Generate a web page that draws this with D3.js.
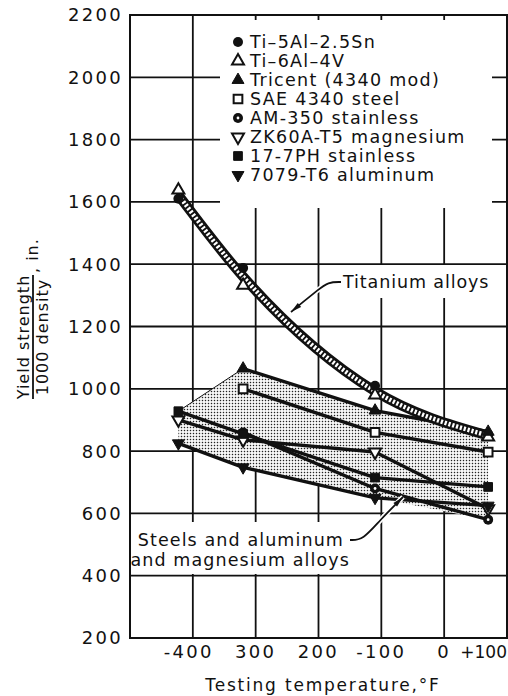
<!DOCTYPE html>
<html>
<head>
<meta charset="utf-8">
<script src="https://cdn.jsdelivr.net/npm/d3@7"></script>
<style>
  html, body { margin: 0; padding: 0; background: #fff; }
  svg { display: block; }
  text { font-family: "DejaVu Sans", sans-serif; fill: #111; }
</style>
</head>
<body>
<svg id="chart" width="508" height="696"></svg>
<script>
// Testing temperatures (°F): liquid hydrogen, liquid nitrogen, dry ice, room temperature
const temps = [-423, -320, -110, 70];

// Yield strength / 1000 density (in.) for each alloy; null = not tested
const tiAl5Sn = [1610, 1388, 1010, 852];
const ti6Al4V = [1638, 1332, 980, 845];
const tricent = [null, 1065, 930, 862];
const sae4340 = [null, 1000, 860, 797];
const am350 = [null, 860, 680, 580];
const zk60a = [900, 836, 797, 615];
const ph177 = [928, 855, 715, 685];
const al7079 = [825, 748, 650, 625];

// Centre of the hatched titanium band
const titaniumBand = [1622, 1360, 992, 850];

const legendNames = [
  "Ti\u20135Al\u20132.5Sn", "Ti\u20136Al\u20134V", "Tricent (4340 mod)", "SAE 4340 steel",
  "AM-350 stainless", "ZK60A-T5 magnesium", "17-7PH stainless", "7079-T6 aluminum"
];
const markerKinds = ["circle", "triUpOpen", "triUp", "squareOpen", "circleDot", "triDownOpen", "square", "triDown"];

const xTicks = [-400, -300, -200, -100, 0, 100];
const xTickLabels = ["-400", "300", "200", "-100", "0", "+100"];
const yTicks = [200, 400, 600, 800, 1000, 1200, 1400, 1600, 1800, 2000, 2200];

const allSeries = [tiAl5Sn, ti6Al4V, tricent, sae4340, am350, zk60a, ph177, al7079];
const steelGroup = [tricent, sae4340, am350, zk60a, ph177, al7079];

const svg = d3.select("#chart");
const x = d3.scaleLinear().domain([-500, 100]).range([130, 507]);
const y = d3.scaleLinear().domain([200, 2200]).range([638, 15]);

const defs = svg.append("defs");
const stip = defs.append("pattern").attr("id", "stipple")
  .attr("width", 3).attr("height", 3).attr("patternUnits", "userSpaceOnUse");
stip.append("rect").attr("width", 3).attr("height", 3).attr("fill", "#fff");
stip.append("rect").attr("x", 0.8).attr("y", 0.8).attr("width", 1.4).attr("height", 1.4).attr("fill", "#222");

svg.append("rect").attr("width", 508).attr("height", 696).attr("fill", "#fff");

// grid
const grid = svg.append("g").attr("stroke", "#111").attr("stroke-width", 1.8);
grid.selectAll("line.h").data(yTicks.slice(1, -1)).join("line")
  .attr("x1", x(-500)).attr("x2", x(100)).attr("y1", d => y(d)).attr("y2", d => y(d));
grid.selectAll("line.v").data(xTicks.slice(0, -1)).join("line")
  .attr("y1", y(200)).attr("y2", y(2200)).attr("x1", d => x(d)).attr("x2", d => x(d));

// white backing behind labels interrupts the grid
svg.append("rect").attr("x", 220).attr("y", 20).attr("width", 272).attr("height", 188).attr("fill", "#fff");
svg.append("rect").attr("x", 338).attr("y", 265).attr("width", 168).attr("height", 33).attr("fill", "#fff");
svg.append("rect").attr("x", 136).attr("y", 522).attr("width", 230).attr("height", 52).attr("fill", "#fff");

// frame
svg.append("rect").attr("x", x(-500)).attr("y", y(2200))
  .attr("width", x(100) - x(-500)).attr("height", y(200) - y(2200))
  .attr("fill", "none").attr("stroke", "#111").attr("stroke-width", 2);

// envelope of steels, aluminum and magnesium
const envelope = temps.map((t, i) => {
  const vals = steelGroup.map(s => s[i]).filter(v => v != null);
  return { t, hi: d3.max(vals), lo: d3.min(vals) };
});
svg.append("path").datum(envelope)
  .attr("d", d3.area().x(d => x(d.t)).y0(d => y(d.lo)).y1(d => y(d.hi)))
  .attr("fill", "url(#stipple)");

// alloy lines
const line = d3.line().defined(d => d.v != null).x(d => x(d.t)).y(d => y(d.v));
steelGroup.forEach(s => {
  svg.append("path").datum(temps.map((t, i) => ({ t, v: s[i] })))
    .attr("d", line).attr("fill", "none").attr("stroke", "#111")
    .attr("stroke-width", 3.4).attr("stroke-linejoin", "round");
});
// upper-left edge of the shaded band
svg.append("path").datum([envelope[0], envelope[1]])
  .attr("d", d3.line().x(d => x(d.t)).y(d => y(d.hi)))
  .attr("stroke", "#111").attr("stroke-width", 1);

// titanium band
const bandLine = d3.line().curve(d3.curveMonotoneX).x(d => x(d.t)).y(d => y(d.v));
const bandData = temps.map((t, i) => ({ t, v: titaniumBand[i] }));
svg.append("path").datum(bandData).attr("d", bandLine)
  .attr("fill", "none").attr("stroke", "#111").attr("stroke-width", 10);
svg.append("path").datum(bandData).attr("d", bandLine)
  .attr("fill", "none").attr("stroke", "#fff").attr("stroke-width", 4.5)
  .attr("stroke-dasharray", "2.2,1.8");

// markers
function marker(g, kind, cx, cy) {
  const k = g.append("g").attr("transform", `translate(${cx},${cy})`);
  const tri = d3.symbol().type(d3.symbolTriangle).size(62)();
  const sq = d3.symbol().type(d3.symbolSquare).size(76)();
  switch (kind) {
    case "circle":
      k.append("circle").attr("r", 5).attr("fill", "#111"); break;
    case "circleDot":
      k.append("circle").attr("r", 5).attr("fill", "#111");
      k.append("circle").attr("r", 1.4).attr("fill", "#fff"); break;
    case "triUp":
      k.append("path").attr("d", tri).attr("fill", "#111").attr("stroke", "#111").attr("stroke-width", 1); break;
    case "triUpOpen":
      k.append("path").attr("d", tri).attr("fill", "#fff").attr("stroke", "#111").attr("stroke-width", 2); break;
    case "triDown":
      k.append("path").attr("d", tri).attr("transform", "rotate(180)").attr("fill", "#111").attr("stroke", "#111").attr("stroke-width", 1); break;
    case "triDownOpen":
      k.append("path").attr("d", tri).attr("transform", "rotate(180)").attr("fill", "#fff").attr("stroke", "#111").attr("stroke-width", 2); break;
    case "square":
      k.append("path").attr("d", sq).attr("fill", "#111").attr("stroke", "#111").attr("stroke-width", 1); break;
    case "squareOpen":
      k.append("path").attr("d", sq).attr("fill", "#fff").attr("stroke", "#111").attr("stroke-width", 2); break;
  }
}
const marks = svg.append("g");
allSeries.forEach((s, si) => {
  temps.forEach((t, i) => {
    if (s[i] != null) marker(marks, markerKinds[si], x(t), y(s[i]));
  });
});

// legend
const leg = svg.append("g");
legendNames.forEach((name, i) => {
  const ly = 42 + i * 19;
  marker(leg, markerKinds[i], 238, ly);
  leg.append("text").attr("x", 250).attr("y", ly).attr("dy", "0.36em")
    .attr("font-size", 17.5).attr("letter-spacing", 1.3).text(name);
});

// axis tick labels
svg.append("g").selectAll("text").data(yTicks).join("text")
  .attr("x", 123).attr("y", d => y(d)).attr("dy", "0.36em").attr("text-anchor", "end")
  .attr("font-size", 18).attr("letter-spacing", 2.3).text(d => d);
const last = xTicks.length - 1;
svg.append("g").selectAll("text").data(xTicks).join("text")
  .attr("x", (d, i) => i === last ? 507 : x(d) - (i === 0 ? 4 : 0))
  .attr("y", 652).attr("dy", "0.36em")
  .attr("text-anchor", (d, i) => i === last ? "end" : "middle")
  .attr("font-size", (d, i) => i === last ? 17 : 18)
  .attr("letter-spacing", (d, i) => i === last ? 0 : 2.3)
  .text((d, i) => xTickLabels[i]);

// axis titles
svg.append("text").attr("x", 323).attr("y", 685).attr("dy", "0.36em").attr("text-anchor", "middle")
  .attr("font-size", 17).attr("letter-spacing", 1.8).text("Testing temperature,\u00B0F");
const yt = svg.append("g").attr("transform", "translate(33,337) rotate(-90)");
yt.append("text").attr("x", 0).attr("y", -4).attr("text-anchor", "middle")
  .attr("font-size", 16).attr("letter-spacing", 1).text("Yield strength");
yt.append("line").attr("x1", -62).attr("x2", 62).attr("y1", 0).attr("y2", 0)
  .attr("stroke", "#111").attr("stroke-width", 1.8);
yt.append("text").attr("x", 0).attr("y", 15).attr("text-anchor", "middle")
  .attr("font-size", 16).attr("letter-spacing", 1).text("1000 density");
yt.append("text").attr("x", 64).attr("y", 5).attr("text-anchor", "start")
  .attr("font-size", 16).attr("letter-spacing", 1).text(", in.");

// annotations
svg.append("text").attr("x", 343).attr("y", 282).attr("dy", "0.36em")
  .attr("font-size", 17.5).attr("letter-spacing", 0.9).text("Titanium alloys");
const ann = svg.append("g").attr("text-anchor", "end").attr("font-size", 17.5).attr("letter-spacing", 1.1);
ann.append("text").attr("x", 344).attr("y", 540).attr("dy", "0.36em").text("Steels and aluminum");
ann.append("text").attr("x", 350).attr("y", 560).attr("dy", "0.36em").text("and magnesium alloys");

function leader(pts, tip) {
  const p = d3.line().curve(d3.curveBasis)(pts);
  svg.append("path").attr("d", p).attr("fill", "none").attr("stroke", "#fff").attr("stroke-width", 5);
  svg.append("path").attr("d", p).attr("fill", "none").attr("stroke", "#111").attr("stroke-width", 1.8);
  // elongated arrowhead pointing at the tip
  const [ax, ay] = tip, [bx, by] = pts[pts.length - 2];
  const ang = Math.atan2(ay - by, ax - bx);
  const L = 11, W = 2.6;
  const back = [ax - L * Math.cos(ang), ay - L * Math.sin(ang)];
  const nx = -Math.sin(ang) * W, ny = Math.cos(ang) * W;
  const head = [[ax, ay], [back[0] + nx, back[1] + ny], [back[0] - nx, back[1] - ny]];
  svg.append("path").attr("d", "M" + head.join("L") + "Z").attr("fill", "#111");
}
leader([[341, 282], [328, 282], [318, 290], [303, 302], [291, 312]], [291, 312]);
leader([[350, 540], [363, 540], [380, 520], [403, 497]], [403, 497]);
</script>
</body>
</html>
